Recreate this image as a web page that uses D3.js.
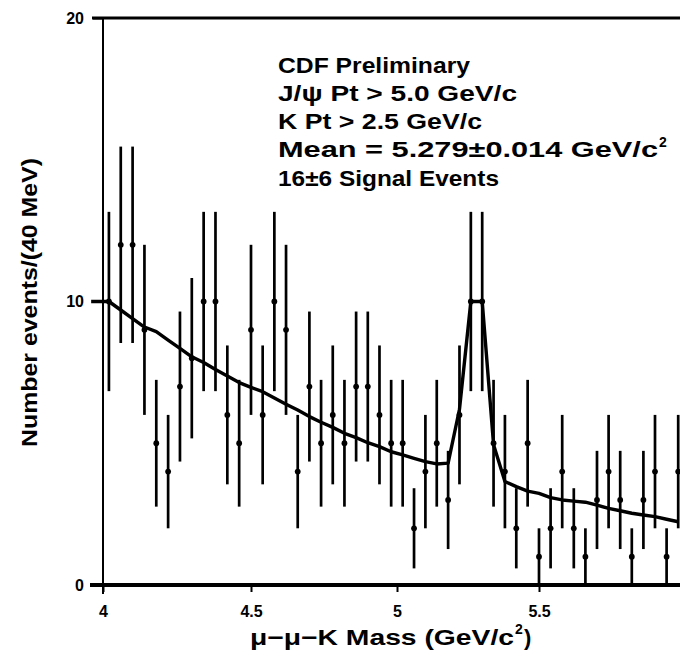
<!DOCTYPE html>
<html>
<head>
<meta charset="utf-8">
<script src="https://cdn.jsdelivr.net/npm/d3@7"></script>
<style>
  html, body { margin: 0; padding: 0; background: #fff; }
  svg { display: block; }
</style>
</head>
<body>
<svg id="chart" width="680" height="654"></svg>
<script>
// ---- data ----
const massBins = [4.02, 4.06, 4.10, 4.14, 4.18, 4.22, 4.26, 4.30, 4.34, 4.38,
                  4.42, 4.46, 4.50, 4.54, 4.58, 4.62, 4.66, 4.70, 4.74, 4.78,
                  4.82, 4.86, 4.90, 4.94, 4.98, 5.02, 5.06, 5.10, 5.14, 5.18,
                  5.22, 5.26, 5.30, 5.34, 5.38, 5.42, 5.46, 5.50, 5.54, 5.58,
                  5.62, 5.66, 5.70, 5.74, 5.78, 5.82, 5.86, 5.90, 5.94, 5.98];
const counts = [10, 12, 12, 9, 5, 4, 7, 8, 10, 10,
                6, 5, 9, 6, 10, 9, 4, 7, 5, 6,
                5, 7, 7, 6, 5, 5, 2, 4, 5, 3,
                6, 10, 10, 5, 4, 2, 5, 1, 2, 4,
                2, 1, 3, 4, 3, 1, 3, 4, 1, 4];
const fitMass = [3.96, 4.02, 4.06, 4.10, 4.14, 4.18, 4.22, 4.26, 4.30, 4.34, 4.38,
                 4.42, 4.46, 4.50, 4.54, 4.58, 4.62, 4.66, 4.70, 4.74, 4.78,
                 4.82, 4.86, 4.90, 4.94, 4.98, 5.02, 5.06, 5.10, 5.14, 5.18,
                 5.22, 5.26, 5.30, 5.34, 5.38, 5.42, 5.46, 5.50, 5.54, 5.58,
                 5.62, 5.66, 5.70, 5.74, 5.78, 5.82, 5.86, 5.90, 5.94, 5.98];
const fitValues = [10.0, 10.0, 9.7, 9.4, 9.1, 8.94, 8.64, 8.35, 8.05, 7.85, 7.6,
                   7.37, 7.14, 6.97, 6.82, 6.6, 6.38, 6.17, 5.94, 5.74, 5.56,
                   5.35, 5.2, 5.02, 4.88, 4.7, 4.59, 4.47, 4.35, 4.27, 4.3,
                   6.2, 10.0, 10.0, 4.95, 3.65, 3.47, 3.31, 3.23, 3.08, 3.0,
                   2.96, 2.92, 2.82, 2.7, 2.62, 2.53, 2.47, 2.41, 2.32, 2.23];
const xTicks = [4, 4.5, 5, 5.5, 6];
const xTickLabels = ["4", "4.5", "5", "5.5", "6"];
const yTicks = [0, 10, 20];
const yTickLabels = ["0", "10", "20"];
const annotations = ["CDF Preliminary", "J/\u03c8 Pt > 5.0 GeV/c", "K Pt > 2.5 GeV/c",
                     "Mean = 5.279\u00b10.014 GeV/c", "16\u00b16 Signal Events"];
const xLabelText = "\u03bc\u2212\u03bc\u2212K Mass (GeV/c";
const yLabelText = "Number events/(40 MeV)";

// ---- layout ----
const svg = d3.select("#chart");
const x = d3.scaleLinear().domain(xTicks).range([103, 251, 397, 539, 684]);
const y = d3.scaleLinear().domain([0, 20]).range([585, 18]);
const ink = "#000";
const font = "'Liberation Sans', Arial, sans-serif";

// frame lines
svg.append("line").attr("x1", 92).attr("x2", 680).attr("y1", y(20)).attr("y2", y(20))
  .attr("stroke", ink).attr("stroke-width", 3);
svg.append("line").attr("x1", x(4)).attr("x2", x(4)).attr("y1", y(20) - 1).attr("y2", 594)
  .attr("stroke", ink).attr("stroke-width", 2);

// axes
const yAxis = d3.axisLeft(y).tickValues(yTicks).tickSize(10).tickPadding(9)
  .tickFormat((d, i) => yTickLabels[i]);
const gy = svg.append("g").attr("transform", `translate(${x(4)},0)`).call(yAxis);
gy.select(".domain").remove();
gy.selectAll(".tick line").attr("stroke", ink).attr("stroke-width", 2);
gy.selectAll(".tick text").attr("fill", ink)
  .style("font-family", font).style("font-weight", "bold").style("font-size", "16px");

const xAxis = d3.axisBottom(x).tickValues(xTicks).tickSize(7).tickPadding(14)
  .tickFormat((d, i) => xTickLabels[i]);
const gx = svg.append("g").attr("transform", `translate(0,${y(0)})`).call(xAxis);
gx.select(".domain").remove();
gx.selectAll(".tick line").attr("stroke", ink).attr("stroke-width", 2);
gx.selectAll(".tick text").attr("fill", ink)
  .style("font-family", font).style("font-weight", "bold").style("font-size", "16px");

svg.append("line").attr("x1", 90).attr("x2", 680).attr("y1", y(0)).attr("y2", y(0))
  .attr("stroke", ink).attr("stroke-width", 4);

// error bars
const pts = massBins.map((m, i) => ({ m, n: counts[i] }));
svg.append("g").selectAll("line").data(pts).join("line")
  .attr("x1", d => x(d.m)).attr("x2", d => x(d.m))
  .attr("y1", d => y(d.n + Math.sqrt(d.n)))
  .attr("y2", d => y(Math.max(0, d.n - Math.sqrt(d.n))))
  .attr("stroke", ink).attr("stroke-width", 2.7);
svg.append("g").selectAll("circle").data(pts).join("circle")
  .attr("cx", d => x(d.m)).attr("cy", d => y(d.n)).attr("r", 2.9).attr("fill", ink);

// fit curve
const line = d3.line().x(d => x(d[0])).y(d => y(d[1]));
svg.append("path").datum(fitMass.map((m, i) => [m, fitValues[i]]))
  .attr("d", line).attr("fill", "none").attr("stroke", ink)
  .attr("stroke-width", 3.4).attr("stroke-linejoin", "round");

// annotations
const annY = [73, 101, 129, 157, 186];
const annW = [192, 239, 204, 380, 221];
annotations.forEach((t, i) => {
  svg.append("text").attr("x", 278).attr("y", annY[i]).text(t)
    .attr("textLength", annW[i]).attr("lengthAdjust", "spacingAndGlyphs")
    .style("font-family", font).style("font-weight", "bold").style("font-size", "22px")
    .attr("fill", ink);
});
svg.append("text").attr("x", 278 + annW[3] + 1).attr("y", annY[3] - 10).text("2")
  .style("font-family", font).style("font-weight", "bold").style("font-size", "14px").attr("fill", ink);

// x label
svg.append("text").attr("x", 250).attr("y", 645).text(xLabelText)
  .attr("textLength", 264).attr("lengthAdjust", "spacingAndGlyphs")
  .style("font-family", font).style("font-weight", "bold").style("font-size", "22px").attr("fill", ink);
svg.append("text").attr("x", 515).attr("y", 634).text("2")
  .style("font-family", font).style("font-weight", "bold").style("font-size", "14px").attr("fill", ink);
svg.append("text").attr("x", 524).attr("y", 645).text(")")
  .style("font-family", font).style("font-weight", "bold").style("font-size", "22px").attr("fill", ink);

// y label
svg.append("text").attr("transform", "translate(37,447) rotate(-90)").text(yLabelText)
  .attr("textLength", 289).attr("lengthAdjust", "spacingAndGlyphs")
  .style("font-family", font).style("font-weight", "bold").style("font-size", "22px").attr("fill", ink);
</script>
</body>
</html>
